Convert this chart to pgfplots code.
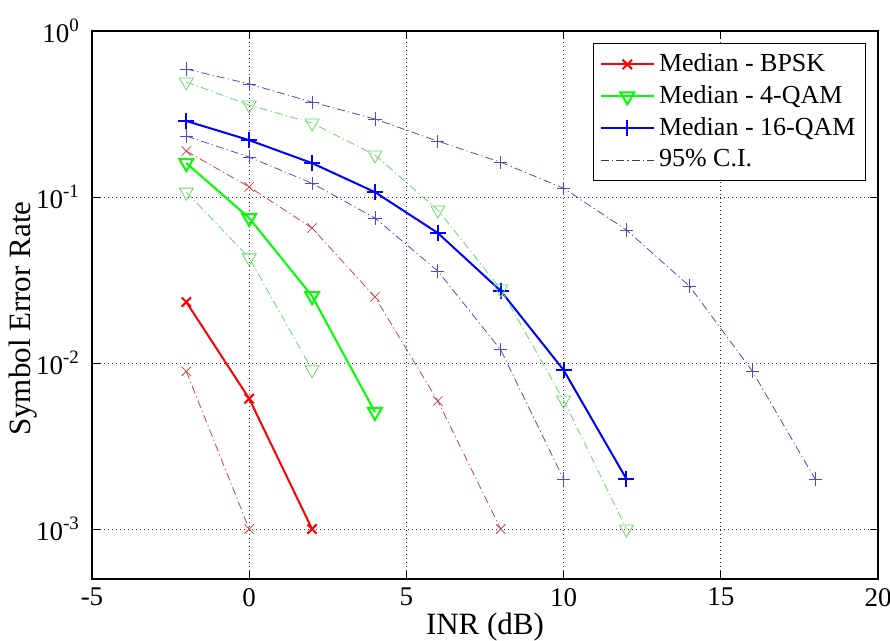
\documentclass[border=0pt]{standalone}
\usepackage{fontspec}
\setmainfont{Liberation Serif}
\usepackage{pgfplots}
\pgfplotsset{compat=1.18}
\definecolor{ciRed}{rgb}{0.78,0.28,0.28}
\definecolor{ciGreen}{rgb}{0.40,0.85,0.40}
\definecolor{ciBlue}{rgb}{0.30,0.30,0.78}
\tikzset{cidash/.style={dash pattern=on 4pt off 1.6pt on 0.6pt off 1.6pt}}
\begin{document}
\fontsize{13}{15}\selectfont
\begin{tikzpicture}
\begin{axis}[
  scale only axis, width=393pt, height=274pt,
  xmin=-5, xmax=20,
  ymode=log, log basis y=10, ymin=5e-4, ymax=1,
  xtick={-5,0,5,10,15,20},
  xticklabels={-5,0,5,10,15,20},
  ytick={1e-3,1e-2,1e-1,1},
  yticklabels={10\textsuperscript{-3},10\textsuperscript{-2},10\textsuperscript{-1},10\textsuperscript{0}},
  tick align=inside,
  major tick length=4pt, minor tick length=2pt,
  tick style={black, line width=0.4pt},
  axis line style={black, line width=0.6pt},
  grid=both,
  major grid style={black!80, line width=0.4pt, dash pattern=on 0.5pt off 1.5pt},
  minor grid style={black!70, line width=0.4pt, dash pattern=on 0.5pt off 1.5pt},
  ticklabel style={font=\fontsize{13.5}{15}\selectfont},
  yticklabel style={xshift=-1.5pt},
  xlabel={INR (dB)}, ylabel={Symbol Error Rate},
  every axis x label/.style={at={(axis description cs:0.5,0)}, anchor=center, yshift=-24pt, font=\fontsize{15.5}{17}\selectfont},
  every axis y label/.style={at={(axis description cs:0,0.475)}, rotate=90, anchor=center, yshift=34.5pt, font=\fontsize{15.5}{17}\selectfont},
  legend style={at={(1,1)}, anchor=north east, xshift=-6pt, yshift=-6pt,
    draw=black, line width=0.5pt, fill=white, font=\fontsize{13}{15}\selectfont,
    row sep=1pt, inner sep=3pt},
  legend cell align=left,
  legend image code/.code={\draw[mark repeat=2,mark phase=2,#1] plot coordinates {(0cm,0cm) (0.47cm,0cm) (0.94cm,0cm)};},
]
% medians
\addplot[red, line width=1pt, mark=x, mark size=3.3pt, mark options={solid, line width=1pt}]
  coordinates {(-2,0.0233) (0,0.0061) (2,0.001)};
\addlegendentry{Median - BPSK}
\addplot[green, line width=1pt, mark=triangle, mark size=4pt, mark options={solid, line width=1pt, rotate=180}]
  coordinates {(-2,0.160) (0,0.0747) (2,0.0253) (4,0.00507)};
\addlegendentry{Median - 4-QAM}
\addplot[blue, line width=1pt, mark=+, mark size=4pt, mark options={solid, line width=1pt}]
  coordinates {(-2,0.287) (0,0.220) (2,0.160) (4,0.107) (6,0.0607) (8,0.0272) (10,0.00907) (12,0.002)};
\addlegendentry{Median - 16-QAM}
\addlegendimage{black!75, line width=0.4pt, cidash}
\addlegendentry{95\% C.I.}
% confidence intervals
\addplot[forget plot, ciRed, line width=0.4pt, cidash, mark=x, mark size=3.3pt, mark options={solid}]
  coordinates {(-2,0.189) (0,0.115) (2,0.065) (4,0.025) (6,0.0059) (8,0.001)};
\addplot[forget plot, ciRed, line width=0.4pt, cidash, mark=x, mark size=3.3pt, mark options={solid}]
  coordinates {(-2,0.0089) (0,0.001)};
\addplot[forget plot, ciGreen, line width=0.4pt, cidash, mark=triangle, mark size=4pt, mark options={solid, rotate=180}]
  coordinates {(-2,0.493) (0,0.358) (2,0.279) (4,0.179) (6,0.0835) (8,0.0279) (10,0.00598) (12,0.001)};
\addplot[forget plot, ciGreen, line width=0.4pt, cidash, mark=triangle, mark size=4pt, mark options={solid, rotate=180}]
  coordinates {(-2,0.107) (0,0.043) (2,0.0091)};
\addplot[forget plot, ciBlue, line width=0.4pt, cidash, mark=+, mark size=3.3pt, mark options={solid}]
  coordinates {(-2,0.590) (0,0.480) (2,0.373) (4,0.295) (6,0.217) (8,0.162) (10,0.113) (12,0.0633) (14,0.0291) (16,0.00895) (18,0.002)};
\addplot[forget plot, ciBlue, line width=0.4pt, cidash, mark=+, mark size=3.3pt, mark options={solid}]
  coordinates {(-2,0.233) (0,0.174) (2,0.121) (4,0.0747) (6,0.0358) (8,0.0120) (10,0.002)};
\end{axis}
\pgfresetboundingbox
\path ([shift={(-46pt,-31pt)}]current axis.south west) rectangle ([shift={(6pt,15.5pt)}]current axis.north east);
\end{tikzpicture}
\end{document}
